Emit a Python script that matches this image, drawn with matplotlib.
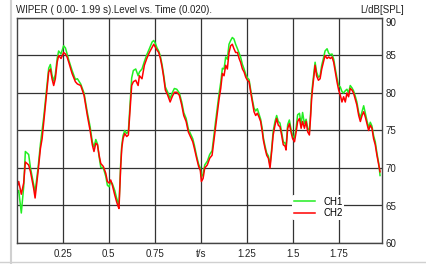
import numpy as np
import matplotlib
matplotlib.use("Agg")
import matplotlib.pyplot as plt
from matplotlib.lines import Line2D

plt.rcParams['font.family'] = ['Liberation Sans', 'DejaVu Sans']

# time axis (s)
t_s = [0.000, 0.011, 0.025, 0.038, 0.047, 0.065, 0.075, 0.092, 0.100, 0.116,
       0.129, 0.138, 0.147, 0.156, 0.165, 0.174, 0.183, 0.192, 0.201, 0.210,
       0.220, 0.228, 0.241, 0.255, 0.265, 0.274, 0.283, 0.301, 0.319, 0.330,
       0.348, 0.366, 0.384, 0.399, 0.411, 0.420, 0.430, 0.439, 0.448, 0.457,
       0.471, 0.484, 0.493, 0.502, 0.511, 0.520, 0.533, 0.543, 0.551, 0.556,
       0.562, 0.565, 0.571, 0.578, 0.587, 0.598, 0.607, 0.614, 0.620, 0.625,
       0.634, 0.647, 0.660, 0.667, 0.681, 0.694, 0.707, 0.721, 0.736, 0.745,
       0.754, 0.763, 0.772, 0.781, 0.790, 0.799, 0.808, 0.821, 0.834, 0.845,
       0.857, 0.870, 0.884, 0.897, 0.908, 0.921, 0.933, 0.944, 0.957, 0.966,
       0.978, 0.989, 0.998, 1.004, 1.013, 1.022, 1.036, 1.049, 1.062, 1.073,
       1.082, 1.091, 1.100, 1.109, 1.118, 1.127, 1.136, 1.145, 1.154, 1.163,
       1.172, 1.181, 1.190, 1.200, 1.209, 1.217, 1.227, 1.236, 1.245, 1.254,
       1.263, 1.272, 1.281, 1.290, 1.299, 1.308, 1.317, 1.326, 1.335, 1.341,
       1.350, 1.359, 1.368, 1.377, 1.386, 1.394, 1.404, 1.413, 1.422, 1.431,
       1.440, 1.449, 1.459, 1.464, 1.473, 1.482, 1.491, 1.500, 1.510, 1.519,
       1.527, 1.537, 1.546, 1.554, 1.564, 1.573, 1.582, 1.591, 1.598, 1.603,
       1.609, 1.616, 1.622, 1.630, 1.640, 1.649, 1.658, 1.667, 1.676, 1.687,
       1.696, 1.705, 1.714, 1.723, 1.732, 1.741, 1.750, 1.759, 1.768, 1.777,
       1.786, 1.795, 1.804, 1.813, 1.822, 1.831, 1.840, 1.849, 1.859, 1.868,
       1.877, 1.886, 1.895, 1.904, 1.913, 1.922, 1.931, 1.940, 1.949, 1.958,
       1.968, 1.975]

# CH1 level (dB SPL)
ch1_db = [66.5, 67.0, 64.0, 67.5, 72.2, 71.8, 70.0, 67.8, 66.8, 70.0,
          73.2, 75.0, 76.8, 79.0, 81.2, 83.3, 83.8, 82.4, 81.6, 82.5,
          84.6, 85.6, 85.2, 86.3, 86.0, 85.2, 84.4, 83.0, 81.8, 81.9,
          81.2, 80.0, 77.4, 75.5, 73.5, 72.8, 73.8, 73.2, 71.5, 70.1,
          70.0, 68.9, 67.7, 67.5, 68.2, 67.9, 67.0, 66.0, 65.4, 65.2,
          68.5, 70.5, 73.0, 74.3, 75.0, 74.6, 74.9, 77.6, 80.0, 82.0,
          83.0, 83.2, 82.3, 82.8, 83.2, 84.2, 85.1, 85.9, 86.8, 87.0,
          86.6, 86.0, 85.6, 84.9, 83.8, 82.4, 80.8, 80.1, 79.3, 80.0,
          80.6, 80.5, 80.0, 78.8, 77.4, 76.6, 75.2, 74.6, 73.9, 73.0,
          71.6, 70.5, 70.0, 68.8, 69.2, 70.4, 70.9, 71.8, 72.3, 74.6,
          76.4, 78.2, 79.9, 81.4, 83.3, 83.2, 84.8, 84.5, 86.5, 87.0,
          87.4, 87.2, 86.5, 85.9, 85.3, 84.8, 83.8, 83.2, 82.5, 82.0,
          81.8, 80.4, 79.1, 78.0, 77.6, 77.9, 77.2, 76.5, 75.2, 74.0,
          72.9, 72.0, 71.6, 70.4, 72.6, 74.9, 76.2, 77.0, 76.2, 76.0,
          74.8, 73.5, 73.3, 72.8, 75.8, 76.4, 75.2, 74.3, 74.0, 75.4,
          77.1, 77.3, 75.9, 77.4, 75.9, 76.5, 75.3, 74.9, 77.6, 79.8,
          81.3, 82.8, 84.1, 82.8, 82.1, 82.3, 83.7, 84.6, 85.6, 85.9,
          85.3, 85.1, 85.2, 84.5, 83.2, 82.0, 81.0, 80.8, 80.2, 80.0,
          80.3, 80.5, 80.0, 81.0, 80.7, 80.3, 79.6, 78.8, 77.4, 76.7,
          77.5, 78.3, 77.3, 76.3, 75.4, 76.1, 75.6, 74.3, 73.5, 72.0,
          70.6, 69.0]

# CH2 level (dB SPL)
ch2_db = [67.3, 68.2, 66.5, 68.0, 70.8, 70.4, 69.5, 67.3, 66.0, 69.5,
          72.6, 73.9, 76.1, 78.4, 80.6, 82.8, 83.2, 81.9, 81.0, 81.9,
          84.1, 85.0, 84.6, 85.4, 85.2, 84.8, 84.1, 82.6, 81.5, 81.2,
          81.0, 79.7, 77.0, 75.0, 73.1, 72.2, 73.3, 73.1, 71.7, 70.6,
          70.2, 69.3, 68.2, 68.0, 68.4, 67.7, 66.4, 65.5, 64.9, 64.6,
          68.2, 70.0, 72.6, 73.9, 74.6, 74.2, 74.4, 77.0, 79.2, 81.0,
          81.5, 81.7, 81.0, 82.3, 81.9, 83.7, 84.6, 85.4, 86.1, 86.5,
          86.1, 85.7, 85.4, 84.6, 83.5, 82.1, 80.4, 79.7, 78.8, 79.5,
          80.1, 80.1, 79.7, 78.4, 77.0, 76.2, 74.8, 74.2, 73.5, 72.6,
          71.3, 70.2, 69.7, 68.2, 68.6, 70.0, 70.4, 71.3, 71.7, 73.9,
          75.7, 77.5, 79.2, 80.6, 82.6, 82.3, 83.7, 83.2, 85.4, 86.3,
          86.5, 85.9, 85.4, 85.4, 84.6, 84.1, 83.2, 82.8, 82.1, 81.7,
          81.5, 80.1, 78.8, 77.5, 77.0, 77.3, 76.8, 76.2, 74.8, 73.7,
          72.6, 71.7, 71.3, 70.0, 72.2, 74.4, 75.7, 76.6, 75.7, 75.5,
          74.4, 73.1, 72.9, 72.4, 75.3, 75.9, 74.8, 73.9, 73.5, 74.8,
          76.2, 76.6, 75.3, 76.2, 75.3, 76.2, 74.8, 74.4, 77.0, 79.2,
          80.8, 82.3, 83.7, 82.3, 81.7, 81.9, 83.2, 84.1, 85.0, 84.6,
          84.8, 84.6, 84.8, 84.1, 82.8, 81.5, 80.4, 79.7, 78.8, 79.5,
          78.8, 80.0, 79.5, 80.6, 80.4, 80.0, 79.2, 78.4, 77.0, 76.2,
          77.0, 77.5, 76.8, 75.9, 75.0, 75.7, 75.3, 73.9, 73.1, 71.7,
          70.4, 69.5]

x_ticks = [0.25, 0.5, 0.75, 1.0, 1.25, 1.5, 1.75]
x_labels = ["0.25", "0.5", "0.75", "t/s", "1.25", "1.5", "1.75"]
y_ticks = [60, 65, 70, 75, 80, 85, 90]

W, H = 427, 264
fig = plt.figure(figsize=(W / 100, H / 100), dpi=100)
ax = fig.add_axes([16.7 / W, 1 - 243 / H, (381.7 - 16.7) / W, (243 - 18) / H])

ax.plot(t_s, ch1_db, color="#22ee22", lw=1.1, label="CH1")
ax.plot(t_s, ch2_db, color="#ff0000", lw=1.1, label="CH2")

ax.set_xlim(0, 1.984)
ax.set_ylim(60, 90)
ax.set_xticks(x_ticks)
ax.set_xticklabels(x_labels)
ax.set_yticks(y_ticks)
ax.yaxis.tick_right()
ax.tick_params(length=0, labelsize=7, pad=3, colors="#222222")
ax.tick_params(axis="x", pad=4)
ax.grid(True, color="#333333", lw=0.9)
ax.set_axisbelow(True)
for s in ax.spines.values():
    s.set_color("#444444")
    s.set_linewidth(1.0)

# top label (90) sits below the frame line, as in the original
ax.get_yticklabels()[-1].set_va("top")

leg = ax.legend(loc="lower left", bbox_to_anchor=((292 - 16.7) / 365, (243 - 220) / 225),
                fontsize=7, frameon=True, handlelength=2.2, handletextpad=0.8,
                borderpad=0.2, labelspacing=0.15, borderaxespad=0)
leg.get_frame().set_edgecolor("none")
leg.get_frame().set_facecolor("white")
leg.get_frame().set_alpha(1)

fig.text(16 / W, 1 - 10 / H, "WIPER ( 0.00- 1.99 s).Level vs. Time (0.020).",
         fontsize=7, va="center", ha="left", color="#222222")
fig.text(404 / W, 1 - 10 / H, "L/dB[SPL]", fontsize=7, va="center", ha="right",
         color="#222222")

# window frame bits
fig.add_artist(Line2D([11.5 / W, 11.5 / W], [0, 1], color="#d0d0d0", lw=1.5))
fig.add_artist(Line2D([0, 1], [1 - 262 / H, 1 - 262 / H], color="#d0d0d0", lw=1.0))

fig.savefig("out.png", dpi=100)
